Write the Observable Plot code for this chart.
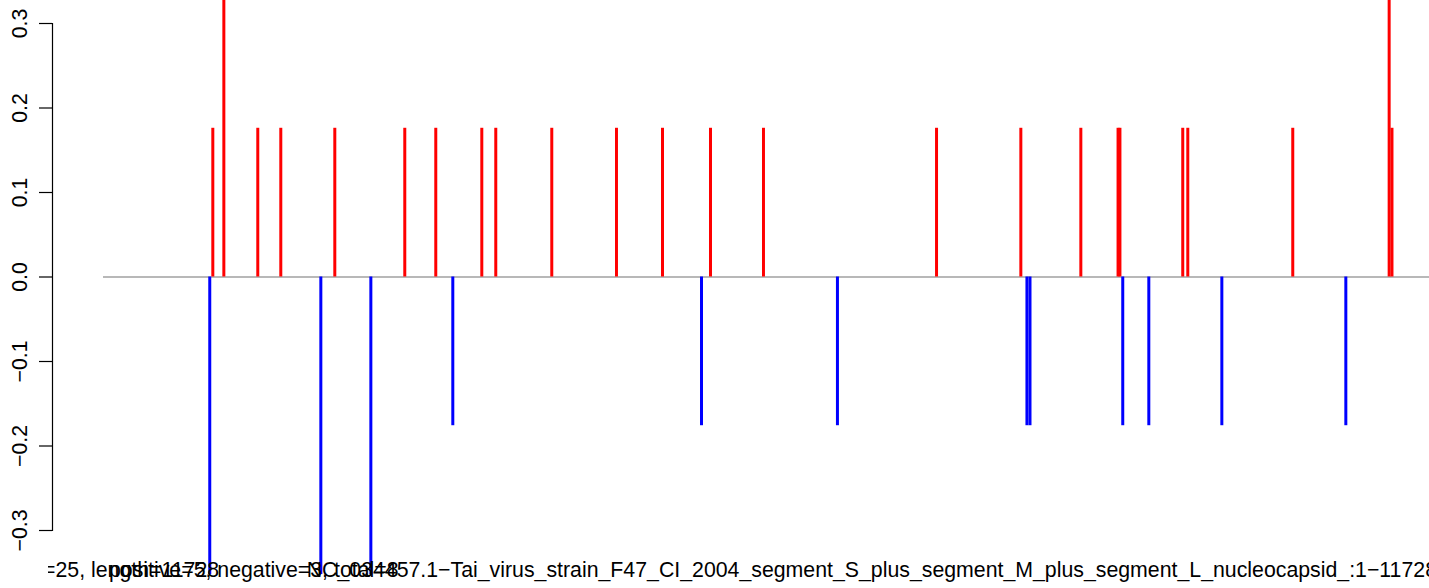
<!DOCTYPE html>
<html>
<head>
<meta charset="utf-8">
<script src="https://cdn.jsdelivr.net/npm/d3@7"></script>
<script src="https://cdn.jsdelivr.net/npm/@observablehq/plot@0.6"></script>
<style>
  html, body { margin: 0; padding: 0; background: white; }
  #chart { width: 1429px; height: 588px; overflow: hidden; }
</style>
</head>
<body>
<div id="chart"></div>
<script>
// Sequence length (nt)
const seqLength = 11728;

// Positive-strand hits (red): positions and values
const posPositions = [931, 1025, 1314, 1510, 1970, 2566, 2830, 3222, 3341, 3818, 4369, 4761, 5170, 5621, 7095, 7813, 8324, 8641, 8657, 9192, 9235, 10129, 10950, 10974];
const posValues    = [0.176, 0.352, 0.176, 0.176, 0.176, 0.176, 0.176, 0.176, 0.176, 0.176, 0.176, 0.176, 0.176, 0.176, 0.176, 0.176, 0.176, 0.176, 0.176, 0.176, 0.176, 0.176, 0.352, 0.176];

// Negative-strand hits (blue): positions and values
const negPositions = [905, 1851, 2277, 2975, 5093, 6251, 7865, 7891, 8681, 8903, 9525, 10581];
const negValues    = [-0.352, -0.352, -0.352, -0.176, -0.176, -0.176, -0.176, -0.176, -0.176, -0.176, -0.176, -0.176];

// Y tick values
const yTicks = [-0.3, -0.2, -0.1, 0.0, 0.1, 0.2, 0.3];

// Bottom texts
const textWindow = "window=25, length=11728";
const textCounts = "positive=5, negative=3, total=8";
const textTitle = "NC_034457.1\u2212Tai_virus_strain_F47_CI_2004_segment_S_plus_segment_M_plus_segment_L_nucleocapsid_:1\u221211728";

const posData = posPositions.map((p, i) => ({pos: p, val: posValues[i]}));
const negData = negPositions.map((p, i) => ({pos: p, val: negValues[i]}));

const W = 1429, H = 588;
const FS = 21.3;

const svg = Plot.plot({
  width: W,
  height: H,
  marginLeft: 52,
  marginTop: 23,
  marginBottom: 58,
  marginRight: 0,
  x: {domain: [0, seqLength], range: [103, 1480], axis: null},
  y: {domain: [-0.3, 0.3], axis: null},
  style: {fontFamily: "'Liberation Sans', Arial, sans-serif", fontSize: FS + "px", background: "white", color: "black", overflow: "hidden"},
  marks: [
    Plot.ruleY([0], {x1: 0, x2: seqLength, stroke: "#a0a0a0", strokeWidth: 1.3}),
    Plot.ruleX(posData, {x: "pos", y1: 0, y2: "val", stroke: "#ff0000", strokeWidth: 3}),
    Plot.ruleX(negData, {x: "pos", y1: 0, y2: "val", stroke: "#0000ff", strokeWidth: 3}),
    Plot.frame({anchor: "left", stroke: "black", strokeWidth: 1.2}),
    Plot.axisY({
      ticks: yTicks,
      tickFormat: d3.format(".1f"),
      tickSize: 13,
      tickPadding: 13,
      tickRotate: -90,
      label: null,
      fontSize: FS,
      stroke: "black",
      strokeWidth: 1.2
    })
  ]
});

const s = d3.select(svg);
s.append("defs").append("clipPath").attr("id", "clipA")
  .append("rect").attr("x", 48).attr("y", 0).attr("width", 2000).attr("height", H);

const textStyle = (t) => t
  .attr("font-family", "'Liberation Sans', Arial, sans-serif")
  .attr("font-size", FS)
  .attr("fill", "black");

textStyle(s.append("text").attr("clip-path", "url(#clipA)").attr("x", -28).attr("y", 577).attr("text-anchor", "start").text(textWindow));
textStyle(s.append("text").attr("x", 109).attr("y", 577).attr("text-anchor", "start").text(textCounts));
textStyle(s.append("text").attr("x", 1437).attr("y", 577).attr("text-anchor", "end").text(textTitle));

document.getElementById("chart").appendChild(svg);
</script>
</body>
</html>
